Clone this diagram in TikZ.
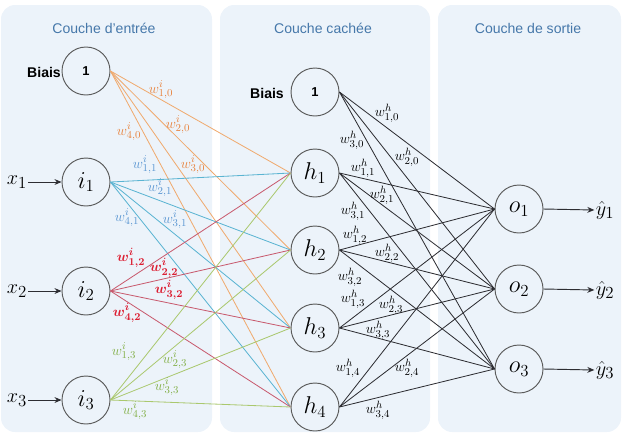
\documentclass[tikz,border=0pt]{standalone}
\usepackage{amsmath}
\usepackage{fontspec}
\setmainfont{Liberation Sans}
\usetikzlibrary{arrows.meta}
\definecolor{panelblue}{RGB}{236, 243, 250}
\definecolor{titleblue}{RGB}{70, 120, 170}
\definecolor{nodegray}{RGB}{90, 90, 90}
\definecolor{linkgray}{RGB}{45, 45, 50}
\definecolor{orangeline}{RGB}{240, 170, 110}
\definecolor{blueline}{RGB}{90, 180, 210}
\definecolor{redline}{RGB}{200, 90, 110}
\definecolor{greenline}{RGB}{170, 200, 110}
\definecolor{orangetext}{RGB}{232, 130, 60}
\definecolor{bluetext}{RGB}{90, 150, 210}
\definecolor{redtext}{RGB}{220, 30, 50}
\definecolor{greentext}{RGB}{130, 175, 70}
\tikzset{
    % Layer backgrounds
    layer panel/.style={
        fill=panelblue, draw=none, rounded corners=12pt
    },
    layer title/.style={
        font=\fontsize{12}{14}\selectfont, text=titleblue
    },
    % Neurons
    neuron/.style={
        circle, draw=nodegray, line width=0.8pt,
        minimum size=1.44cm, inner sep=0pt,
        font=\fontsize{20}{22}\selectfont
    },
    bias/.style={
        neuron, font=\bfseries\fontsize{11}{13}\selectfont
    },
    bias label/.style={
        font=\bfseries\fontsize{12}{14}\selectfont
    },
    % Weights
    weight/.style={
        inner sep=0pt, font=\fontsize{13}{15}\selectfont
    },
    % Connections
    link/.style={
        line width=0.7pt
    },
    io arrow/.style={
        -{Stealth[length=6pt, width=5pt]}, line width=0.8pt, color=linkgray
    },
    io label/.style={
        inner sep=1pt, font=\fontsize{19}{21}\selectfont
    }
}
\begin{document}
\begin{tikzpicture}[x=0.03cm, y=-0.03cm]

    \useasboundingbox (0, 0) rectangle (624, 440);

    % Layer panels
    \fill[layer panel] (1, 5) rectangle (212, 432);
    \fill[layer panel] (220, 5) rectangle (430, 432);
    \fill[layer panel] (438, 5) rectangle (621, 432);

    \node[layer title] (tin) at (104, 28) {Couche d'entrée};
    \node[layer title] (thid) at (323, 28) {Couche cachée};
    \node[layer title] (tout) at (528, 28) {Couche de sortie};

    % Input layer
    \node[bias] (b) at (86, 71) {1};
    \node[bias label] (bl) at (44, 72) {Biais};
    \node[neuron] (i1) at (86, 182) {$i_1$};
    \node[neuron] (i2) at (86, 291) {$i_2$};
    \node[neuron] (i3) at (86, 400) {$i_3$};

    % Hidden layer
    \node[bias] (hb) at (315, 92) {1};
    \node[bias label] (hbl) at (267, 93) {Biais};
    \node[neuron] (h1) at (315, 173) {$h_1$};
    \node[neuron] (h2) at (315, 250) {$h_2$};
    \node[neuron] (h3) at (315, 328) {$h_3$};
    \node[neuron] (h4) at (315, 407) {$h_4$};

    % Output layer
    \node[neuron] (o1) at (519, 209) {$o_1$};
    \node[neuron] (o2) at (519, 289) {$o_2$};
    \node[neuron] (o3) at (519, 369) {$o_3$};

    % Input -> hidden
    \foreach \src/\col in {b/orangeline, i1/blueline, i2/redline, i3/greenline}
        \foreach \dst in {h1, h2, h3, h4}
            \draw[link, \col] (\src.east) -- (\dst.west);

    % Hidden -> output
    \foreach \src in {hb, h1, h2, h3, h4}
        \foreach \dst in {o1, o2, o3}
            \draw[link, linkgray] (\src.east) -- (\dst.west);

    % Inputs and outputs
    \node[io label] (x1) at (17, 182) {$x_1$};
    \node[io label] (x2) at (17, 291) {$x_2$};
    \node[io label] (x3) at (17, 400) {$x_3$};
    \draw[io arrow] (x1.east) -- (i1.west);
    \draw[io arrow] (x2.east) -- (i2.west);
    \draw[io arrow] (x3.east) -- (i3.west);

    \node[io label] (y1) at (605, 210) {$\hat{y}_1$};
    \node[io label] (y2) at (605, 290) {$\hat{y}_2$};
    \node[io label] (y3) at (605, 370) {$\hat{y}_3$};
    \draw[io arrow] (o1.east) -- (y1.west);
    \draw[io arrow] (o2.east) -- (y2.west);
    \draw[io arrow] (o3.east) -- (y3.west);

    % Input weights
    \node[weight, orangetext] (w10) at (161, 90) {$w^i_{1,0}$};
    \node[weight, orangetext] (w20) at (178, 125) {$w^i_{2,0}$};
    \node[weight, orangetext] (w40) at (129, 132) {$w^i_{4,0}$};
    \node[weight, orangetext] (w30) at (193, 165) {$w^i_{3,0}$};
    \node[weight, bluetext] (w11) at (145, 165) {$w^i_{1,1}$};
    \node[weight, bluetext] (w21) at (160, 188) {$w^i_{2,1}$};
    \node[weight, bluetext] (w41) at (127, 218) {$w^i_{4,1}$};
    \node[weight, bluetext] (w31) at (175, 220) {$w^i_{3,1}$};
    \node[weight, redtext] (w12) at (131, 258) {$\boldsymbol{w^i_{1,2}}$};
    \node[weight, redtext] (w22) at (164, 268) {$\boldsymbol{w^i_{2,2}}$};
    \node[weight, redtext] (w32) at (169, 290) {$\boldsymbol{w^i_{3,2}}$};
    \node[weight, redtext] (w42) at (127, 313) {$\boldsymbol{w^i_{4,2}}$};
    \node[weight, greentext] (w13) at (124, 352) {$w^i_{1,3}$};
    \node[weight, greentext] (w23) at (175, 360) {$w^i_{2,3}$};
    \node[weight, greentext] (w33) at (167, 387) {$w^i_{3,3}$};
    \node[weight, greentext] (w43) at (135, 411) {$w^i_{4,3}$};

    % Hidden weights
    \node[weight] (v10) at (387, 113) {$w^h_{1,0}$};
    \node[weight] (v30) at (352, 140) {$w^h_{3,0}$};
    \node[weight] (v20) at (407, 157) {$w^h_{2,0}$};
    \node[weight] (v11) at (363, 168) {$w^h_{1,1}$};
    \node[weight] (v21) at (382, 195) {$w^h_{2,1}$};
    \node[weight] (v31) at (353, 211) {$w^h_{3,1}$};
    \node[weight] (v12) at (355, 235) {$w^h_{1,2}$};
    \node[weight] (v22) at (387, 253) {$w^h_{2,2}$};
    \node[weight] (v32) at (350, 277) {$w^h_{3,2}$};
    \node[weight] (v13) at (353, 299) {$w^h_{1,3}$};
    \node[weight] (v23) at (391, 305) {$w^h_{2,3}$};
    \node[weight] (v33) at (378, 330) {$w^h_{3,3}$};
    \node[weight] (v14) at (348, 368) {$w^h_{1,4}$};
    \node[weight] (v24) at (407, 368) {$w^h_{2,4}$};
    \node[weight] (v34) at (378, 410) {$w^h_{3,4}$};

\end{tikzpicture}
\end{document}
